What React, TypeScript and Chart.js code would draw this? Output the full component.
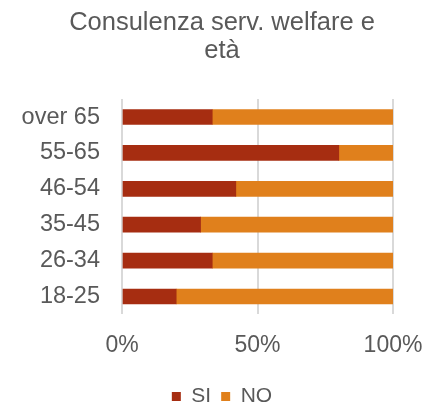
import React, { useEffect, useRef } from "react";
import { Chart, registerables } from "chart.js";

Chart.register(...registerables);

const categories = ["over 65", "55-65", "46-54", "35-45", "26-34", "18-25"];
const siValues = [33.3, 80, 42, 29, 33.3, 20];
const noValues = [66.7, 20, 58, 71, 66.7, 80];
const xTicks = [0, 50, 100];
const titleLines = ["Consulenza serv. welfare e", "età"];

const FONT = "'Liberation Sans', Arial, sans-serif";
const TEXT = "#595959";

export default function App() {
  const ref = useRef<HTMLCanvasElement | null>(null);
  useEffect(() => {
    document.body.style.margin = "0";
    if (!ref.current) return;
    const chart = new Chart(ref.current, {
      type: "bar",
      data: {
        labels: categories,
        datasets: [
          { label: "SI", data: siValues, backgroundColor: "#A62D11", barThickness: 15 },
          { label: "NO", data: noValues, backgroundColor: "#E0801C", barThickness: 15 },
        ],
      },
      options: {
        indexAxis: "y",
        animation: false,
        responsive: false,
        layout: { padding: { left: 0, right: 0, top: 0, bottom: 0 } },
        plugins: {
          title: {
            display: true,
            text: titleLines,
            color: TEXT,
            font: { family: FONT, size: 25.5, weight: "normal", lineHeight: 1.1 },
            padding: { top: 9, bottom: 34 },
          },
          legend: {
            position: "bottom",
            labels: {
              color: TEXT,
              font: { family: FONT, size: 21 },
              boxWidth: 9,
              boxHeight: 9,
              padding: 10,
            },
          },
          tooltip: { enabled: false },
        },
        scales: {
          x: {
            stacked: true,
            min: 0,
            max: 100,
            afterBuildTicks: (axis: any) => {
              axis.ticks = xTicks.map((v) => ({ value: v }));
            },
            ticks: {
              color: TEXT,
              font: { family: FONT, size: 23 },
              padding: 17,
              callback: (v: any) => v + "%",
            },
            grid: { color: "#D9D9D9", lineWidth: 2, drawTicks: false },
            border: { display: false },
          },
          y: {
            stacked: true,
            afterFit: (axis: any) => {
              axis.width = 122;
            },
            ticks: {
              color: TEXT,
              font: { family: FONT, size: 23.5 },
              padding: 14,
            },
            grid: { display: false },
            border: { display: false },
          },
          yRight: {
            position: "right",
            display: true,
            afterFit: (axis: any) => {
              axis.width = 51;
            },
            ticks: { display: false },
            grid: { display: false },
            border: { display: false },
          },
        },
      },
    });
    return () => chart.destroy();
  }, []);
  return (
    <div style={{ width: 444, height: 417 }}>
      <canvas ref={ref} width={444} height={417} />
    </div>
  );
}
